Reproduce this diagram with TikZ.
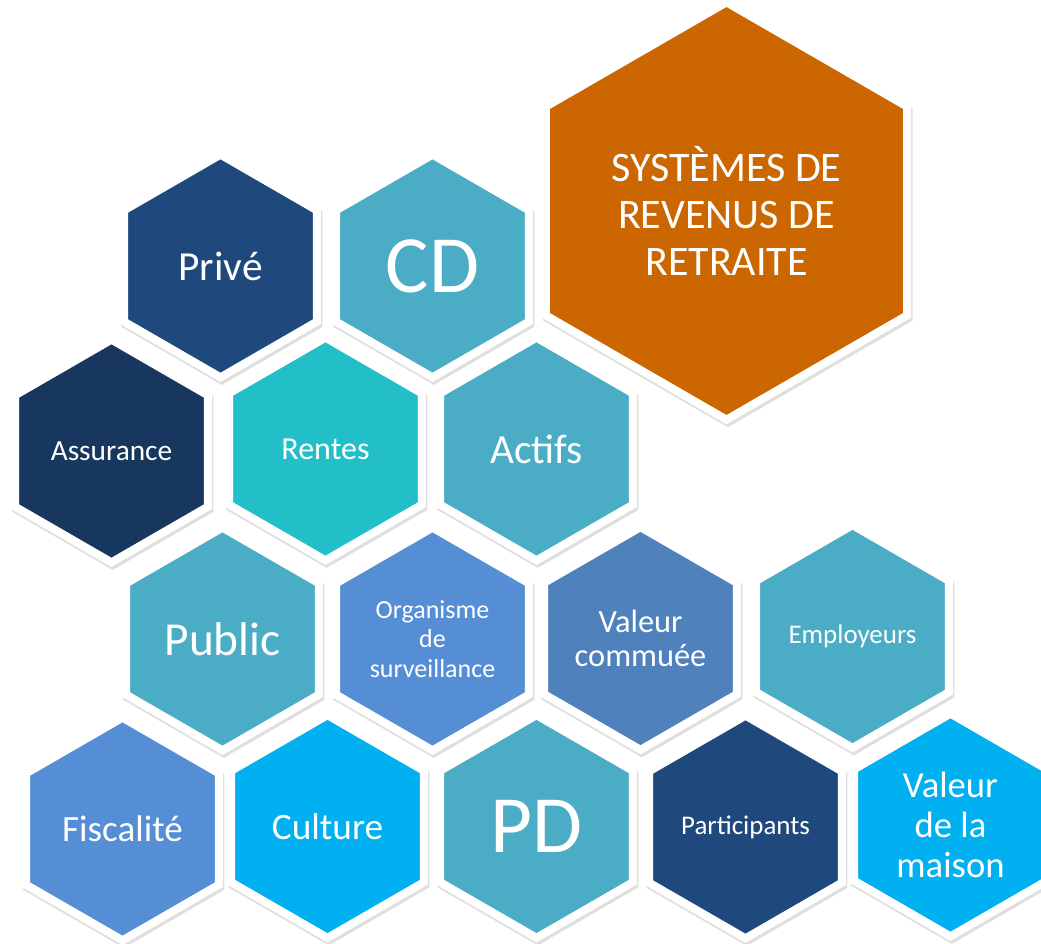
\documentclass[tikz,border=0pt]{standalone}
\usepackage{fontspec}
\setmainfont{Carlito}
\usetikzlibrary{shapes.geometric,shadows}

\definecolor{bleuFonce}{RGB}{31,73,125}
\definecolor{marine}{RGB}{23,55,94}
\definecolor{sarcelle}{RGB}{75,172,198}
\definecolor{turquoise}{RGB}{35,191,201}
\definecolor{bleuMoyen}{RGB}{85,142,213}
\definecolor{bleuAcier}{RGB}{79,129,189}
\definecolor{ciel}{RGB}{0,176,240}
\definecolor{orangeTitre}{RGB}{204,102,0}

\begin{document}
\begin{tikzpicture}[x=0.75pt,y=-0.75pt,
    hexa/.style={regular polygon, regular polygon sides=6, shape border rotate=30,
        minimum size=167pt, inner sep=0pt, draw=white, line width=6pt, text=white,
        align=center,
        drop shadow={shadow xshift=1pt, shadow yshift=-2.2pt, opacity=0.18,
            fill=black!70, draw=black!70, line width=6pt}}]
    \useasboundingbox (0,0) rectangle (1041,944);

    % 大六边形 (标题)
    \node[hexa, minimum size=313pt, fill=orangeTitre, font=\fontsize{31.5}{35}\selectfont]
        (systemes) at (726.5,211) {SYSTÈMES DE\\REVENUS DE\\RETRAITE};

    % 第1行
    \node[hexa, fill=bleuFonce, font=\fontsize{31}{37}\selectfont] (prive) at (220.5,266) {Privé};
    \node[hexa, fill=sarcelle, font=\fontsize{61}{70}\selectfont] (cd) at (432.5,266) {CD};

    % 第2行
    \node[hexa, fill=marine, font=\fontsize{22}{26}\selectfont] (assurance) at (111.5,451) {Assurance};
    \node[hexa, fill=turquoise, font=\fontsize{24}{29}\selectfont] (rentes) at (325.5,449) {Rentes};
    \node[hexa, fill=sarcelle, font=\fontsize{31}{37}\selectfont] (actifs) at (536.5,449) {Actifs};

    % 第3行
    \node[hexa, fill=sarcelle, font=\fontsize{35.5}{42}\selectfont] (public) at (222.5,639) {Public};
    \node[hexa, fill=bleuMoyen, font=\fontsize{19.5}{22}\selectfont] (organisme) at (432.5,639)
        {Organisme\\de\\surveillance};
    \node[hexa, fill=bleuAcier, font=\fontsize{24.3}{25.5}\selectfont] (commuee) at (640.5,638.5)
        {Valeur\\commuée};
    \node[hexa, fill=sarcelle, font=\fontsize{20.2}{24}\selectfont] (employeurs) at (852.5,636.5) {Employeurs};

    % 第4行
    \node[hexa, fill=bleuMoyen, font=\fontsize{27.8}{32}\selectfont] (fiscalite) at (122.5,829) {Fiscalité};
    \node[hexa, fill=ciel, font=\fontsize{28}{32}\selectfont] (culture) at (327.5,826.5) {Culture};
    \node[hexa, fill=sarcelle, font=\fontsize{61}{70}\selectfont] (pd) at (536.5,826.5) {PD};
    \node[hexa, fill=bleuFonce, font=\fontsize{20.2}{24}\selectfont] (participants) at (745.5,827) {Participants};
    \node[hexa, fill=ciel, font=\fontsize{27.5}{30}\selectfont] (maison) at (950.5,825)
        {Valeur\\de la\\maison};
\end{tikzpicture}
\end{document}
